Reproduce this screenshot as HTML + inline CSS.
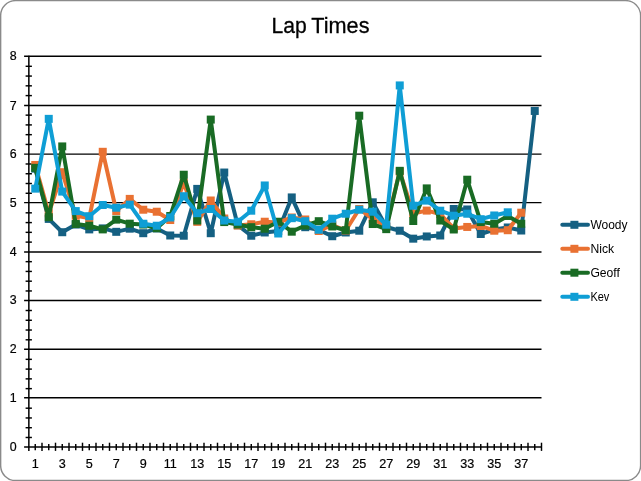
<!DOCTYPE html>
<html lang="en"><head><meta charset="utf-8"><title>Lap Times</title>
<style>html,body{margin:0;padding:0;background:#fff;overflow:hidden}svg{display:block;will-change:transform}text{font-family:"Liberation Sans",Arial,sans-serif;fill:#000}</style>
</head><body>
<svg width="641" height="481" viewBox="0 0 641 481">
<rect x="0" y="0" width="641" height="481" fill="#fff"/>
<rect x="0.65" y="0.6" width="639.95" height="479.95" rx="15" ry="15" fill="#fff" stroke="#8a8a8a" stroke-width="1.4"/>
<g font-size="22.4" stroke="#000" stroke-width="0.3"><text x="271.5" y="32.8" textLength="35.2" lengthAdjust="spacingAndGlyphs">Lap</text><text x="311.3" y="32.8" textLength="58.2" lengthAdjust="spacingAndGlyphs">Times</text></g>
<g stroke="#000" stroke-width="1.33" fill="none"><line x1="24.10" y1="397.75" x2="541.50" y2="397.75"/><line x1="24.10" y1="349.27" x2="541.50" y2="349.27"/><line x1="24.10" y1="300.47" x2="541.50" y2="300.47"/><line x1="24.10" y1="252.00" x2="541.50" y2="252.00"/><line x1="24.10" y1="202.65" x2="541.50" y2="202.65"/><line x1="24.10" y1="154.10" x2="541.50" y2="154.10"/><line x1="24.10" y1="105.50" x2="541.50" y2="105.50"/><line x1="24.10" y1="56.27" x2="541.50" y2="56.27"/><line x1="24.10" y1="447.00" x2="541.50" y2="447.00"/><line x1="28.85" y1="55.67" x2="28.85" y2="451.00" stroke-width="1.5"/></g>
<g stroke="#000" stroke-width="1.45" fill="none"><line x1="25.60" y1="437.48" x2="31.90" y2="437.48"/><line x1="25.60" y1="427.71" x2="31.90" y2="427.71"/><line x1="25.60" y1="417.95" x2="31.90" y2="417.95"/><line x1="25.60" y1="408.18" x2="31.90" y2="408.18"/><line x1="25.60" y1="388.64" x2="31.90" y2="388.64"/><line x1="25.60" y1="378.87" x2="31.90" y2="378.87"/><line x1="25.60" y1="369.11" x2="31.90" y2="369.11"/><line x1="25.60" y1="359.34" x2="31.90" y2="359.34"/><line x1="25.60" y1="339.80" x2="31.90" y2="339.80"/><line x1="25.60" y1="330.03" x2="31.90" y2="330.03"/><line x1="25.60" y1="320.27" x2="31.90" y2="320.27"/><line x1="25.60" y1="310.50" x2="31.90" y2="310.50"/><line x1="25.60" y1="290.96" x2="31.90" y2="290.96"/><line x1="25.60" y1="281.19" x2="31.90" y2="281.19"/><line x1="25.60" y1="271.43" x2="31.90" y2="271.43"/><line x1="25.60" y1="261.66" x2="31.90" y2="261.66"/><line x1="25.60" y1="242.12" x2="31.90" y2="242.12"/><line x1="25.60" y1="232.35" x2="31.90" y2="232.35"/><line x1="25.60" y1="222.59" x2="31.90" y2="222.59"/><line x1="25.60" y1="212.82" x2="31.90" y2="212.82"/><line x1="25.60" y1="193.28" x2="31.90" y2="193.28"/><line x1="25.60" y1="183.51" x2="31.90" y2="183.51"/><line x1="25.60" y1="173.75" x2="31.90" y2="173.75"/><line x1="25.60" y1="163.98" x2="31.90" y2="163.98"/><line x1="25.60" y1="144.44" x2="31.90" y2="144.44"/><line x1="25.60" y1="134.67" x2="31.90" y2="134.67"/><line x1="25.60" y1="124.91" x2="31.90" y2="124.91"/><line x1="25.60" y1="115.14" x2="31.90" y2="115.14"/><line x1="25.60" y1="95.60" x2="31.90" y2="95.60"/><line x1="25.60" y1="85.83" x2="31.90" y2="85.83"/><line x1="25.60" y1="76.07" x2="31.90" y2="76.07"/><line x1="25.60" y1="66.30" x2="31.90" y2="66.30"/><line x1="42.00" y1="442.70" x2="42.00" y2="450.90"/><line x1="55.50" y1="442.70" x2="55.50" y2="450.90"/><line x1="69.00" y1="442.70" x2="69.00" y2="450.90"/><line x1="82.50" y1="442.70" x2="82.50" y2="450.90"/><line x1="96.00" y1="442.70" x2="96.00" y2="450.90"/><line x1="109.50" y1="442.70" x2="109.50" y2="450.90"/><line x1="123.00" y1="442.70" x2="123.00" y2="450.90"/><line x1="136.50" y1="442.70" x2="136.50" y2="450.90"/><line x1="150.00" y1="442.70" x2="150.00" y2="450.90"/><line x1="163.50" y1="442.70" x2="163.50" y2="450.90"/><line x1="177.00" y1="442.70" x2="177.00" y2="450.90"/><line x1="190.50" y1="442.70" x2="190.50" y2="450.90"/><line x1="204.00" y1="442.70" x2="204.00" y2="450.90"/><line x1="217.50" y1="442.70" x2="217.50" y2="450.90"/><line x1="231.00" y1="442.70" x2="231.00" y2="450.90"/><line x1="244.50" y1="442.70" x2="244.50" y2="450.90"/><line x1="258.00" y1="442.70" x2="258.00" y2="450.90"/><line x1="271.50" y1="442.70" x2="271.50" y2="450.90"/><line x1="285.00" y1="442.70" x2="285.00" y2="450.90"/><line x1="298.50" y1="442.70" x2="298.50" y2="450.90"/><line x1="312.00" y1="442.70" x2="312.00" y2="450.90"/><line x1="325.50" y1="442.70" x2="325.50" y2="450.90"/><line x1="339.00" y1="442.70" x2="339.00" y2="450.90"/><line x1="352.50" y1="442.70" x2="352.50" y2="450.90"/><line x1="366.00" y1="442.70" x2="366.00" y2="450.90"/><line x1="379.50" y1="442.70" x2="379.50" y2="450.90"/><line x1="393.00" y1="442.70" x2="393.00" y2="450.90"/><line x1="406.50" y1="442.70" x2="406.50" y2="450.90"/><line x1="420.00" y1="442.70" x2="420.00" y2="450.90"/><line x1="433.50" y1="442.70" x2="433.50" y2="450.90"/><line x1="447.00" y1="442.70" x2="447.00" y2="450.90"/><line x1="460.50" y1="442.70" x2="460.50" y2="450.90"/><line x1="474.00" y1="442.70" x2="474.00" y2="450.90"/><line x1="487.50" y1="442.70" x2="487.50" y2="450.90"/><line x1="501.00" y1="442.70" x2="501.00" y2="450.90"/><line x1="514.50" y1="442.70" x2="514.50" y2="450.90"/><line x1="528.00" y1="442.70" x2="528.00" y2="450.90"/><line x1="541.50" y1="442.70" x2="541.50" y2="450.90"/><line x1="35.25" y1="444.00" x2="35.25" y2="450.20"/><line x1="48.75" y1="444.00" x2="48.75" y2="450.20"/><line x1="62.25" y1="444.00" x2="62.25" y2="450.20"/><line x1="75.75" y1="444.00" x2="75.75" y2="450.20"/><line x1="89.25" y1="444.00" x2="89.25" y2="450.20"/><line x1="102.75" y1="444.00" x2="102.75" y2="450.20"/><line x1="116.25" y1="444.00" x2="116.25" y2="450.20"/><line x1="129.75" y1="444.00" x2="129.75" y2="450.20"/><line x1="143.25" y1="444.00" x2="143.25" y2="450.20"/><line x1="156.75" y1="444.00" x2="156.75" y2="450.20"/><line x1="170.25" y1="444.00" x2="170.25" y2="450.20"/><line x1="183.75" y1="444.00" x2="183.75" y2="450.20"/><line x1="197.25" y1="444.00" x2="197.25" y2="450.20"/><line x1="210.75" y1="444.00" x2="210.75" y2="450.20"/><line x1="224.25" y1="444.00" x2="224.25" y2="450.20"/><line x1="237.75" y1="444.00" x2="237.75" y2="450.20"/><line x1="251.25" y1="444.00" x2="251.25" y2="450.20"/><line x1="264.75" y1="444.00" x2="264.75" y2="450.20"/><line x1="278.25" y1="444.00" x2="278.25" y2="450.20"/><line x1="291.75" y1="444.00" x2="291.75" y2="450.20"/><line x1="305.25" y1="444.00" x2="305.25" y2="450.20"/><line x1="318.75" y1="444.00" x2="318.75" y2="450.20"/><line x1="332.25" y1="444.00" x2="332.25" y2="450.20"/><line x1="345.75" y1="444.00" x2="345.75" y2="450.20"/><line x1="359.25" y1="444.00" x2="359.25" y2="450.20"/><line x1="372.75" y1="444.00" x2="372.75" y2="450.20"/><line x1="386.25" y1="444.00" x2="386.25" y2="450.20"/><line x1="399.75" y1="444.00" x2="399.75" y2="450.20"/><line x1="413.25" y1="444.00" x2="413.25" y2="450.20"/><line x1="426.75" y1="444.00" x2="426.75" y2="450.20"/><line x1="440.25" y1="444.00" x2="440.25" y2="450.20"/><line x1="453.75" y1="444.00" x2="453.75" y2="450.20"/><line x1="467.25" y1="444.00" x2="467.25" y2="450.20"/><line x1="480.75" y1="444.00" x2="480.75" y2="450.20"/><line x1="494.25" y1="444.00" x2="494.25" y2="450.20"/><line x1="507.75" y1="444.00" x2="507.75" y2="450.20"/><line x1="521.25" y1="444.00" x2="521.25" y2="450.20"/><line x1="534.75" y1="444.00" x2="534.75" y2="450.20"/></g>
<g font-size="12.4" text-anchor="end" stroke="#000" stroke-width="0.2"><text x="16.6" y="451.00">0</text><text x="16.6" y="401.75">1</text><text x="16.6" y="353.27">2</text><text x="16.6" y="304.47">3</text><text x="16.6" y="256.00">4</text><text x="16.6" y="206.65">5</text><text x="16.6" y="158.10">6</text><text x="16.6" y="109.50">7</text><text x="16.6" y="60.27">8</text></g>
<g font-size="12.6" text-anchor="middle" stroke="#000" stroke-width="0.2"><text x="35.25" y="468.3">1</text><text x="62.25" y="468.3">3</text><text x="89.25" y="468.3">5</text><text x="116.25" y="468.3">7</text><text x="143.25" y="468.3">9</text><text x="170.25" y="468.3">11</text><text x="197.25" y="468.3">13</text><text x="224.25" y="468.3">15</text><text x="251.25" y="468.3">17</text><text x="278.25" y="468.3">19</text><text x="305.25" y="468.3">21</text><text x="332.25" y="468.3">23</text><text x="359.25" y="468.3">25</text><text x="386.25" y="468.3">27</text><text x="413.25" y="468.3">29</text><text x="440.25" y="468.3">31</text><text x="467.25" y="468.3">33</text><text x="494.25" y="468.3">35</text><text x="521.25" y="468.3">37</text></g>
<g fill="#156082" stroke="none"><polyline points="35.25,168.63 48.75,218.90 62.25,232.22 75.75,224.51 89.25,229.39 102.75,228.41 116.25,231.83 129.75,228.66 143.25,233.20 156.75,228.41 170.25,235.49 183.75,235.73 197.25,188.89 210.75,233.20 224.25,172.54 237.75,225.24 251.25,235.73 264.75,232.46 278.25,231.10 291.75,197.43 305.25,227.19 318.75,229.88 332.25,236.22 345.75,232.46 359.25,230.71 372.75,202.31 386.25,226.95 399.75,230.71 413.25,238.66 426.75,236.47 440.25,235.49 453.75,208.99 467.25,209.48 480.75,233.98 494.25,229.49 507.75,227.49 521.25,230.51 534.75,110.95" fill="none" stroke="#156082" stroke-width="4.0" stroke-linejoin="round" stroke-linecap="round"/><rect x="31.25" y="164.63" width="8.0" height="8.0"/><rect x="44.75" y="214.90" width="8.0" height="8.0"/><rect x="58.25" y="228.22" width="8.0" height="8.0"/><rect x="71.75" y="220.51" width="8.0" height="8.0"/><rect x="85.25" y="225.39" width="8.0" height="8.0"/><rect x="98.75" y="224.41" width="8.0" height="8.0"/><rect x="112.25" y="227.83" width="8.0" height="8.0"/><rect x="125.75" y="224.66" width="8.0" height="8.0"/><rect x="139.25" y="229.20" width="8.0" height="8.0"/><rect x="152.75" y="224.41" width="8.0" height="8.0"/><rect x="166.25" y="231.49" width="8.0" height="8.0"/><rect x="179.75" y="231.73" width="8.0" height="8.0"/><rect x="193.25" y="184.89" width="8.0" height="8.0"/><rect x="206.75" y="229.20" width="8.0" height="8.0"/><rect x="220.25" y="168.54" width="8.0" height="8.0"/><rect x="233.75" y="221.24" width="8.0" height="8.0"/><rect x="247.25" y="231.73" width="8.0" height="8.0"/><rect x="260.75" y="228.46" width="8.0" height="8.0"/><rect x="274.25" y="227.10" width="8.0" height="8.0"/><rect x="287.75" y="193.43" width="8.0" height="8.0"/><rect x="301.25" y="223.19" width="8.0" height="8.0"/><rect x="314.75" y="225.88" width="8.0" height="8.0"/><rect x="328.25" y="232.22" width="8.0" height="8.0"/><rect x="341.75" y="228.46" width="8.0" height="8.0"/><rect x="355.25" y="226.71" width="8.0" height="8.0"/><rect x="368.75" y="198.31" width="8.0" height="8.0"/><rect x="382.25" y="222.95" width="8.0" height="8.0"/><rect x="395.75" y="226.71" width="8.0" height="8.0"/><rect x="409.25" y="234.66" width="8.0" height="8.0"/><rect x="422.75" y="232.47" width="8.0" height="8.0"/><rect x="436.25" y="231.49" width="8.0" height="8.0"/><rect x="449.75" y="204.99" width="8.0" height="8.0"/><rect x="463.25" y="205.48" width="8.0" height="8.0"/><rect x="476.75" y="229.98" width="8.0" height="8.0"/><rect x="490.25" y="225.49" width="8.0" height="8.0"/><rect x="503.75" y="223.49" width="8.0" height="8.0"/><rect x="517.25" y="226.51" width="8.0" height="8.0"/><rect x="530.75" y="106.95" width="8.0" height="8.0"/></g>
<g fill="#E97132" stroke="none"><polyline points="35.25,164.97 48.75,213.29 62.25,172.20 75.75,215.73 89.25,218.02 102.75,151.80 116.25,210.99 129.75,198.89 143.25,209.72 156.75,211.72 170.25,220.02 183.75,182.54 197.25,221.83 210.75,200.50 224.25,218.51 237.75,225.49 251.25,224.27 264.75,221.73 278.25,222.56 291.75,217.48 305.25,219.48 318.75,231.00 332.25,225.00 345.75,230.51 359.25,208.99 372.75,218.90 386.25,225.97 399.75,171.56 413.25,213.48 426.75,210.60 440.25,214.02 453.75,228.41 467.25,226.95 480.75,225.97 494.25,230.71 507.75,230.22 521.25,212.70" fill="none" stroke="#E97132" stroke-width="4.0" stroke-linejoin="round" stroke-linecap="round"/><rect x="31.25" y="160.97" width="8.0" height="8.0"/><rect x="44.75" y="209.29" width="8.0" height="8.0"/><rect x="58.25" y="168.20" width="8.0" height="8.0"/><rect x="71.75" y="211.73" width="8.0" height="8.0"/><rect x="85.25" y="214.02" width="8.0" height="8.0"/><rect x="98.75" y="147.80" width="8.0" height="8.0"/><rect x="112.25" y="206.99" width="8.0" height="8.0"/><rect x="125.75" y="194.89" width="8.0" height="8.0"/><rect x="139.25" y="205.72" width="8.0" height="8.0"/><rect x="152.75" y="207.72" width="8.0" height="8.0"/><rect x="166.25" y="216.02" width="8.0" height="8.0"/><rect x="179.75" y="178.54" width="8.0" height="8.0"/><rect x="193.25" y="217.83" width="8.0" height="8.0"/><rect x="206.75" y="196.50" width="8.0" height="8.0"/><rect x="220.25" y="214.51" width="8.0" height="8.0"/><rect x="233.75" y="221.49" width="8.0" height="8.0"/><rect x="247.25" y="220.27" width="8.0" height="8.0"/><rect x="260.75" y="217.73" width="8.0" height="8.0"/><rect x="274.25" y="218.56" width="8.0" height="8.0"/><rect x="287.75" y="213.48" width="8.0" height="8.0"/><rect x="301.25" y="215.48" width="8.0" height="8.0"/><rect x="314.75" y="227.00" width="8.0" height="8.0"/><rect x="328.25" y="221.00" width="8.0" height="8.0"/><rect x="341.75" y="226.51" width="8.0" height="8.0"/><rect x="355.25" y="204.99" width="8.0" height="8.0"/><rect x="368.75" y="214.90" width="8.0" height="8.0"/><rect x="382.25" y="221.97" width="8.0" height="8.0"/><rect x="395.75" y="167.56" width="8.0" height="8.0"/><rect x="409.25" y="209.48" width="8.0" height="8.0"/><rect x="422.75" y="206.60" width="8.0" height="8.0"/><rect x="436.25" y="210.02" width="8.0" height="8.0"/><rect x="449.75" y="224.41" width="8.0" height="8.0"/><rect x="463.25" y="222.95" width="8.0" height="8.0"/><rect x="476.75" y="221.97" width="8.0" height="8.0"/><rect x="490.25" y="226.71" width="8.0" height="8.0"/><rect x="503.75" y="226.22" width="8.0" height="8.0"/><rect x="517.25" y="208.70" width="8.0" height="8.0"/></g>
<g fill="#196B24" stroke="none"><polyline points="35.25,167.85 48.75,217.19 62.25,146.43 75.75,224.02 89.25,225.73 102.75,229.39 116.25,219.63 129.75,223.68 143.25,224.51 156.75,228.22 170.25,216.02 183.75,174.73 197.25,220.51 210.75,119.59 224.25,222.07 237.75,224.51 251.25,227.19 264.75,228.71 278.25,221.73 291.75,231.68 305.25,225.49 318.75,221.19 332.25,226.46 345.75,230.22 359.25,115.69 372.75,224.02 386.25,229.15 399.75,170.83 413.25,221.00 426.75,188.40 440.25,220.51 453.75,229.49 467.25,179.71 480.75,222.07 494.25,223.73 507.75,215.97 521.25,223.73" fill="none" stroke="#196B24" stroke-width="4.0" stroke-linejoin="round" stroke-linecap="round"/><rect x="31.25" y="163.85" width="8.0" height="8.0"/><rect x="44.75" y="213.19" width="8.0" height="8.0"/><rect x="58.25" y="142.43" width="8.0" height="8.0"/><rect x="71.75" y="220.02" width="8.0" height="8.0"/><rect x="85.25" y="221.73" width="8.0" height="8.0"/><rect x="98.75" y="225.39" width="8.0" height="8.0"/><rect x="112.25" y="215.63" width="8.0" height="8.0"/><rect x="125.75" y="219.68" width="8.0" height="8.0"/><rect x="139.25" y="220.51" width="8.0" height="8.0"/><rect x="152.75" y="224.22" width="8.0" height="8.0"/><rect x="166.25" y="212.02" width="8.0" height="8.0"/><rect x="179.75" y="170.73" width="8.0" height="8.0"/><rect x="193.25" y="216.51" width="8.0" height="8.0"/><rect x="206.75" y="115.59" width="8.0" height="8.0"/><rect x="220.25" y="218.07" width="8.0" height="8.0"/><rect x="233.75" y="220.51" width="8.0" height="8.0"/><rect x="247.25" y="223.19" width="8.0" height="8.0"/><rect x="260.75" y="224.71" width="8.0" height="8.0"/><rect x="274.25" y="217.73" width="8.0" height="8.0"/><rect x="287.75" y="227.68" width="8.0" height="8.0"/><rect x="301.25" y="221.49" width="8.0" height="8.0"/><rect x="314.75" y="217.19" width="8.0" height="8.0"/><rect x="328.25" y="222.46" width="8.0" height="8.0"/><rect x="341.75" y="226.22" width="8.0" height="8.0"/><rect x="355.25" y="111.69" width="8.0" height="8.0"/><rect x="368.75" y="220.02" width="8.0" height="8.0"/><rect x="382.25" y="225.15" width="8.0" height="8.0"/><rect x="395.75" y="166.83" width="8.0" height="8.0"/><rect x="409.25" y="217.00" width="8.0" height="8.0"/><rect x="422.75" y="184.40" width="8.0" height="8.0"/><rect x="436.25" y="216.51" width="8.0" height="8.0"/><rect x="449.75" y="225.49" width="8.0" height="8.0"/><rect x="463.25" y="175.71" width="8.0" height="8.0"/><rect x="476.75" y="218.07" width="8.0" height="8.0"/><rect x="490.25" y="219.73" width="8.0" height="8.0"/><rect x="503.75" y="211.97" width="8.0" height="8.0"/><rect x="517.25" y="219.73" width="8.0" height="8.0"/></g>
<g fill="#0F9ED5" stroke="none"><polyline points="35.25,188.64 48.75,118.86 62.25,191.57 75.75,211.09 89.25,216.21 102.75,204.99 116.25,207.72 129.75,204.65 143.25,223.73 156.75,225.73 170.25,217.48 183.75,196.21 197.25,213.19 210.75,208.99 224.25,220.51 237.75,221.73 251.25,210.70 264.75,185.47 278.25,233.49 291.75,218.17 305.25,221.19 318.75,229.73 332.25,218.70 345.75,213.73 359.25,209.72 372.75,211.72 386.25,224.71 399.75,85.43 413.25,205.72 426.75,200.60 440.25,210.70 453.75,215.73 467.25,213.73 480.75,219.19 494.25,215.48 507.75,212.31" fill="none" stroke="#0F9ED5" stroke-width="4.0" stroke-linejoin="round" stroke-linecap="round"/><rect x="31.25" y="184.64" width="8.0" height="8.0"/><rect x="44.75" y="114.86" width="8.0" height="8.0"/><rect x="58.25" y="187.57" width="8.0" height="8.0"/><rect x="71.75" y="207.09" width="8.0" height="8.0"/><rect x="85.25" y="212.21" width="8.0" height="8.0"/><rect x="98.75" y="200.99" width="8.0" height="8.0"/><rect x="112.25" y="203.72" width="8.0" height="8.0"/><rect x="125.75" y="200.65" width="8.0" height="8.0"/><rect x="139.25" y="219.73" width="8.0" height="8.0"/><rect x="152.75" y="221.73" width="8.0" height="8.0"/><rect x="166.25" y="213.48" width="8.0" height="8.0"/><rect x="179.75" y="192.21" width="8.0" height="8.0"/><rect x="193.25" y="209.19" width="8.0" height="8.0"/><rect x="206.75" y="204.99" width="8.0" height="8.0"/><rect x="220.25" y="216.51" width="8.0" height="8.0"/><rect x="233.75" y="217.73" width="8.0" height="8.0"/><rect x="247.25" y="206.70" width="8.0" height="8.0"/><rect x="260.75" y="181.47" width="8.0" height="8.0"/><rect x="274.25" y="229.49" width="8.0" height="8.0"/><rect x="287.75" y="214.17" width="8.0" height="8.0"/><rect x="301.25" y="217.19" width="8.0" height="8.0"/><rect x="314.75" y="225.73" width="8.0" height="8.0"/><rect x="328.25" y="214.70" width="8.0" height="8.0"/><rect x="341.75" y="209.73" width="8.0" height="8.0"/><rect x="355.25" y="205.72" width="8.0" height="8.0"/><rect x="368.75" y="207.72" width="8.0" height="8.0"/><rect x="382.25" y="220.71" width="8.0" height="8.0"/><rect x="395.75" y="81.43" width="8.0" height="8.0"/><rect x="409.25" y="201.72" width="8.0" height="8.0"/><rect x="422.75" y="196.60" width="8.0" height="8.0"/><rect x="436.25" y="206.70" width="8.0" height="8.0"/><rect x="449.75" y="211.73" width="8.0" height="8.0"/><rect x="463.25" y="209.73" width="8.0" height="8.0"/><rect x="476.75" y="215.19" width="8.0" height="8.0"/><rect x="490.25" y="211.48" width="8.0" height="8.0"/><rect x="503.75" y="208.31" width="8.0" height="8.0"/></g>
<line x1="562.3" y1="224.8" x2="588.0" y2="224.8" stroke="#156082" stroke-width="4.0" stroke-linecap="round"/>
<rect x="570.40" y="220.80" width="8.0" height="8.0" fill="#156082"/>
<text x="590.4" y="228.80" font-size="13.3" textLength="37.1" lengthAdjust="spacingAndGlyphs">Woody</text>
<line x1="562.3" y1="248.8" x2="588.0" y2="248.8" stroke="#E97132" stroke-width="4.0" stroke-linecap="round"/>
<rect x="570.40" y="244.80" width="8.0" height="8.0" fill="#E97132"/>
<text x="590.4" y="252.80" font-size="13.3" textLength="23.7" lengthAdjust="spacingAndGlyphs">Nick</text>
<line x1="562.3" y1="272.7" x2="588.0" y2="272.7" stroke="#196B24" stroke-width="4.0" stroke-linecap="round"/>
<rect x="570.40" y="268.70" width="8.0" height="8.0" fill="#196B24"/>
<text x="590.4" y="276.70" font-size="13.3" textLength="29.5" lengthAdjust="spacingAndGlyphs">Geoff</text>
<line x1="562.3" y1="296.8" x2="588.0" y2="296.8" stroke="#0F9ED5" stroke-width="4.0" stroke-linecap="round"/>
<rect x="570.40" y="292.80" width="8.0" height="8.0" fill="#0F9ED5"/>
<text x="590.4" y="300.80" font-size="13.3" textLength="19.0" lengthAdjust="spacingAndGlyphs">Kev</text>
</svg></body></html>
